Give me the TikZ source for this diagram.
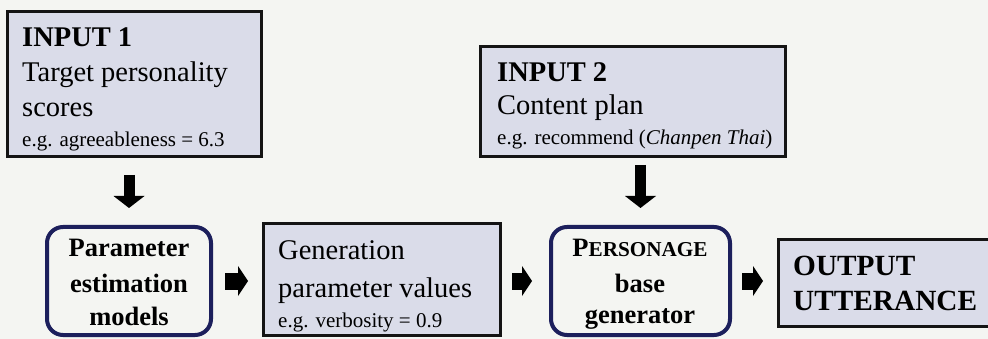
\documentclass[tikz,border=0pt]{standalone}
\usepackage{fontspec}
\setmainfont{Liberation Serif}
\usetikzlibrary{arrows.meta}
\definecolor{paper}{HTML}{F4F5F2}
\definecolor{boxfill}{HTML}{DADCE9}
\definecolor{navy}{HTML}{1C1F5C}
\begin{document}
\begin{tikzpicture}[x=1pt,y=-1pt,
  databox/.style={draw=black!92, line width=3pt, fill=boxfill, rectangle,
    anchor=north west, inner sep=0pt, outer sep=0pt},
  procbox/.style={draw=navy, line width=4pt, fill=paper, rectangle,
    rounded corners=16pt, anchor=north west, inner sep=0pt, outer sep=0pt},
  txt/.style={anchor=base west, inner sep=0pt},
  ctxt/.style={anchor=base, inner sep=0pt},
  big/.style={font=\fontsize{28.5}{34}\selectfont},
  bigb/.style={font=\fontsize{28.5}{34}\selectfont\bfseries},
  small/.style={font=\fontsize{21}{25}\selectfont},
  procf/.style={font=\fontsize{26.5}{32}\selectfont\bfseries},
  outf/.style={font=\fontsize{29.3}{35}\selectfont\bfseries},
  fatv/.style={line width=11pt, -{Triangle[length=12pt,width=31pt,line width=0pt]}},
  fath/.style={line width=17pt, -{Triangle[length=10pt,width=30pt,line width=0pt]}},
]
\fill[paper] (0,0) rectangle (988,339);
\useasboundingbox (0,0) rectangle (988,339);

% data boxes
\node[databox, minimum width=254pt, minimum height=145pt] (in1) at (7.5,11.5) {};
\node[databox, minimum width=305pt, minimum height=110pt] (in2) at (480.5,46.5) {};
\node[databox, minimum width=237pt, minimum height=112pt] (gen) at (263.5,223.5) {};
\node[databox, minimum width=230pt, minimum height=87pt] (out) at (778.5,239.5) {};

% processing boxes
\node[procbox, minimum width=164pt, minimum height=108pt] (pem) at (47,227) {};
\node[procbox, minimum width=179pt, minimum height=108pt] (pbg) at (551,227) {};

% input 1
\node[txt, bigb] (in1a) at (22,47) {INPUT 1};
\node[txt, big] (in1b) at (22,82) {Target personality};
\node[txt, big] (in1c) at (22,117) {scores};
\node[txt, small] (in1d) at (22,147) {e.g. agreeableness = 6.3};

% input 2
\node[txt, bigb] (in2a) at (497,82) {INPUT 2};
\node[txt, big] (in2b) at (497,115) {Content plan};
\node[txt, small] (in2c) at (497,145) {e.g. recommend (\textit{Chanpen Thai})};

% parameter estimation models
\node[ctxt, procf] (pema) at (129,257) {Parameter};
\node[ctxt, procf] (pemb) at (129,292) {estimation};
\node[ctxt, procf] (pemc) at (129,325) {models};

% generation parameter values
\node[txt, big] (gena) at (278,259) {Generation};
\node[txt, big] (genb) at (278,297) {parameter values};
\node[txt, small] (genc) at (278,327) {e.g. verbosity = 0.9};

% base generator
\node[ctxt, procf] (pbga) at (640,257) {P{\fontsize{21.2}{25}\selectfont ERSONAGE}};
\node[ctxt, procf] (pbgb) at (640,292) {base};
\node[ctxt, procf] (pbgc) at (640,323) {generator};

% output
\node[txt, outf] (outa) at (793,275) {OUTPUT};
\node[txt, outf] (outb) at (793,310) {UTTERANCE};

% block arrows
\draw[fatv, shorten <=18.5pt, shorten >=19pt] (in1.south -| pem.north) -- (pem.north);
\draw[fatv, shorten <=8.5pt, shorten >=19pt] (in2.south -| pbg.north) -- (pbg.north);
\draw[fath, shorten <=14pt, shorten >=15.5pt] (pem.east) -- (pem.east -| gen.west);
\draw[fath, shorten <=11.5pt, shorten >=19pt] (gen.east |- pbg.west) -- (pbg.west);
\draw[fath, shorten <=12pt, shorten >=15.5pt] (pbg.east) -- (pbg.east -| out.west);
\end{tikzpicture}
\end{document}
